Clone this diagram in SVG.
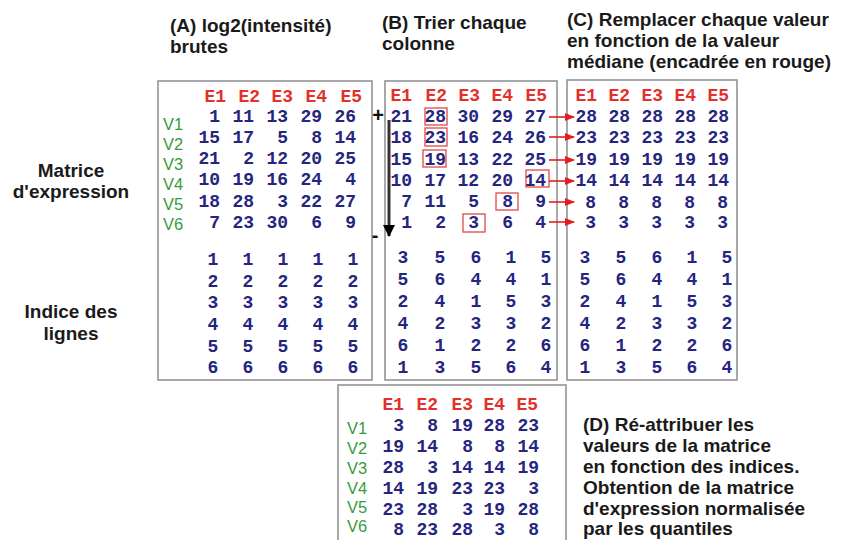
<svg xmlns="http://www.w3.org/2000/svg" width="842" height="540" viewBox="0 0 842 540">
<style>
.bg{fill:#ffffff}
.box{fill:#ffffff;stroke:#8c8c8c;stroke-width:1.5}
.t{font-family:"Liberation Sans",Arial,sans-serif;font-weight:bold;font-size:19px;fill:#1a1a1a}
.c{text-anchor:middle}
.h{font-family:"Liberation Mono","Courier New",monospace;font-weight:bold;font-size:18px;fill:#e3302a;text-anchor:end}
.n{font-family:"Liberation Mono","Courier New",monospace;font-weight:bold;font-size:18px;fill:#25257f;text-anchor:end}
.i{font-family:"Liberation Mono","Courier New",monospace;font-weight:bold;font-size:18px;fill:#25257f;text-anchor:middle}
.v{font-family:"Liberation Sans",Arial,sans-serif;font-size:16.5px;fill:#3a9a3a}
.rb{fill:none;stroke:#e04848;stroke-width:1.3}
.ra{stroke:#e02020;stroke-width:1.6;fill:none}
.pm{font-family:"Liberation Sans",Arial,sans-serif;font-weight:bold;font-size:20px;fill:#111}
</style>
<defs>
<marker id="redhead" markerWidth="10" markerHeight="8" refX="9" refY="4" orient="auto" markerUnits="userSpaceOnUse">
<path d="M0,0 L10,4 L0,8 Z" fill="#e02020"/>
</marker>
<marker id="blackhead" markerWidth="12" markerHeight="12" refX="6" refY="11" orient="0" markerUnits="userSpaceOnUse">
<path d="M0,0 L12,0 L6,12 Z" fill="#000"/>
</marker>
</defs>
<rect class="bg" x="0" y="0" width="842" height="540"/>

<g id="titles">
<text class="t" x="170" y="32">(A) log2(intensité)</text>
<text class="t" x="170" y="53">brutes</text>
<text class="t" x="382" y="29">(B) Trier chaque</text>
<text class="t" x="382" y="50">colonne</text>
<text class="t" x="567" y="26">(C) Remplacer chaque valeur</text>
<text class="t" x="567" y="47">en fonction de la valeur</text>
<text class="t" x="567" y="68">médiane (encadrée en rouge)</text>
<text class="t c" x="71" y="177">Matrice</text>
<text class="t c" x="71" y="198">d'expression</text>
<text class="t c" x="71" y="318">Indice des</text>
<text class="t c" x="71" y="340">lignes</text>
<text class="t" x="583" y="431">(D) Ré-attribuer les</text>
<text class="t" x="583" y="452">valeurs de la matrice</text>
<text class="t" x="583" y="473">en fonction des indices.</text>
<text class="t" x="583" y="494">Obtention de la matrice</text>
<text class="t" x="583" y="515">d'expression normalisée</text>
<text class="t" x="583" y="535">par les quantiles</text>
</g>

<g id="boxA">
<rect class="box" x="158" y="81" width="214" height="299"/>
<text class="h" y="102"><tspan x="226">E1</tspan><tspan x="260">E2</tspan><tspan x="293">E3</tspan><tspan x="327">E4</tspan><tspan x="362">E5</tspan></text>
<text class="v" x="163" y="130">V1</text>
<text class="v" x="163" y="150">V2</text>
<text class="v" x="163" y="170">V3</text>
<text class="v" x="163" y="190">V4</text>
<text class="v" x="163" y="210">V5</text>
<text class="v" x="163" y="230">V6</text>
<text class="n" y="122"><tspan x="220">1</tspan><tspan x="254">11</tspan><tspan x="288">13</tspan><tspan x="322">29</tspan><tspan x="356">26</tspan></text>
<text class="n" y="143"><tspan x="220">15</tspan><tspan x="254">17</tspan><tspan x="288">5</tspan><tspan x="322">8</tspan><tspan x="356">14</tspan></text>
<text class="n" y="164"><tspan x="220">21</tspan><tspan x="254">2</tspan><tspan x="288">12</tspan><tspan x="322">20</tspan><tspan x="356">25</tspan></text>
<text class="n" y="185"><tspan x="220">10</tspan><tspan x="254">19</tspan><tspan x="288">16</tspan><tspan x="322">24</tspan><tspan x="356">4</tspan></text>
<text class="n" y="207"><tspan x="220">18</tspan><tspan x="254">28</tspan><tspan x="288">3</tspan><tspan x="322">22</tspan><tspan x="356">27</tspan></text>
<text class="n" y="228"><tspan x="220">7</tspan><tspan x="254">23</tspan><tspan x="288">30</tspan><tspan x="322">6</tspan><tspan x="356">9</tspan></text>
<text class="i" y="265"><tspan x="213">1</tspan><tspan x="248">1</tspan><tspan x="283">1</tspan><tspan x="318">1</tspan><tspan x="353">1</tspan></text>
<text class="i" y="287"><tspan x="213">2</tspan><tspan x="248">2</tspan><tspan x="283">2</tspan><tspan x="318">2</tspan><tspan x="353">2</tspan></text>
<text class="i" y="308"><tspan x="213">3</tspan><tspan x="248">3</tspan><tspan x="283">3</tspan><tspan x="318">3</tspan><tspan x="353">3</tspan></text>
<text class="i" y="330"><tspan x="213">4</tspan><tspan x="248">4</tspan><tspan x="283">4</tspan><tspan x="318">4</tspan><tspan x="353">4</tspan></text>
<text class="i" y="352"><tspan x="213">5</tspan><tspan x="248">5</tspan><tspan x="283">5</tspan><tspan x="318">5</tspan><tspan x="353">5</tspan></text>
<text class="i" y="373"><tspan x="213">6</tspan><tspan x="248">6</tspan><tspan x="283">6</tspan><tspan x="318">6</tspan><tspan x="353">6</tspan></text>
</g>

<g id="boxB">
<rect class="box" x="385" y="81" width="172" height="299"/>
<text class="h" y="101"><tspan x="412">E1</tspan><tspan x="447">E2</tspan><tspan x="480">E3</tspan><tspan x="513">E4</tspan><tspan x="547">E5</tspan></text>
<text class="n" y="122"><tspan x="412">21</tspan><tspan x="446">28</tspan><tspan x="479">30</tspan><tspan x="513">29</tspan><tspan x="546">27</tspan></text>
<text class="n" y="143"><tspan x="412">18</tspan><tspan x="446">23</tspan><tspan x="479">16</tspan><tspan x="513">24</tspan><tspan x="546">26</tspan></text>
<text class="n" y="165"><tspan x="412">15</tspan><tspan x="446">19</tspan><tspan x="479">13</tspan><tspan x="513">22</tspan><tspan x="546">25</tspan></text>
<text class="n" y="186"><tspan x="412">10</tspan><tspan x="446">17</tspan><tspan x="479">12</tspan><tspan x="513">20</tspan><tspan x="546">14</tspan></text>
<text class="n" y="207"><tspan x="412">7</tspan><tspan x="446">11</tspan><tspan x="479">5</tspan><tspan x="513">8</tspan><tspan x="546">9</tspan></text>
<text class="n" y="228"><tspan x="412">1</tspan><tspan x="446">2</tspan><tspan x="479">3</tspan><tspan x="513">6</tspan><tspan x="546">4</tspan></text>
<rect class="rb" x="425" y="108" width="22" height="17"/>
<rect class="rb" x="425" y="128" width="22" height="18"/>
<rect class="rb" x="423" y="150" width="23" height="17"/>
<rect class="rb" x="526" y="170" width="23" height="17"/>
<rect class="rb" x="496" y="193" width="22" height="17"/>
<rect class="rb" x="463" y="214" width="22" height="18"/>
<text class="pm c" x="378" y="122">+</text>
<text class="pm c" x="375" y="242">-</text>
<text class="i" y="263"><tspan x="403">3</tspan><tspan x="440">5</tspan><tspan x="476">6</tspan><tspan x="511">1</tspan><tspan x="546">5</tspan></text>
<text class="i" y="285"><tspan x="403">5</tspan><tspan x="440">6</tspan><tspan x="476">4</tspan><tspan x="511">4</tspan><tspan x="546">1</tspan></text>
<text class="i" y="307"><tspan x="403">2</tspan><tspan x="440">4</tspan><tspan x="476">1</tspan><tspan x="511">5</tspan><tspan x="546">3</tspan></text>
<text class="i" y="329"><tspan x="403">4</tspan><tspan x="440">2</tspan><tspan x="476">3</tspan><tspan x="511">3</tspan><tspan x="546">2</tspan></text>
<text class="i" y="351"><tspan x="403">6</tspan><tspan x="440">1</tspan><tspan x="476">2</tspan><tspan x="511">2</tspan><tspan x="546">6</tspan></text>
<text class="i" y="373"><tspan x="403">1</tspan><tspan x="440">3</tspan><tspan x="476">5</tspan><tspan x="511">6</tspan><tspan x="546">4</tspan></text>
</g>

<g id="boxC">
<rect class="box" x="567" y="80" width="170" height="300"/>
<text class="h" y="101"><tspan x="597">E1</tspan><tspan x="630">E2</tspan><tspan x="663">E3</tspan><tspan x="696">E4</tspan><tspan x="729">E5</tspan></text>
<text class="n" y="122"><tspan x="597">28</tspan><tspan x="630">28</tspan><tspan x="663">28</tspan><tspan x="696">28</tspan><tspan x="729">28</tspan></text>
<text class="n" y="143"><tspan x="597">23</tspan><tspan x="630">23</tspan><tspan x="663">23</tspan><tspan x="696">23</tspan><tspan x="729">23</tspan></text>
<text class="n" y="165"><tspan x="597">19</tspan><tspan x="630">19</tspan><tspan x="663">19</tspan><tspan x="696">19</tspan><tspan x="729">19</tspan></text>
<text class="n" y="186"><tspan x="597">14</tspan><tspan x="630">14</tspan><tspan x="663">14</tspan><tspan x="696">14</tspan><tspan x="729">14</tspan></text>
<text class="n" y="208"><tspan x="596">8</tspan><tspan x="629">8</tspan><tspan x="662">8</tspan><tspan x="695">8</tspan><tspan x="728">8</tspan></text>
<text class="n" y="228"><tspan x="596">3</tspan><tspan x="629">3</tspan><tspan x="662">3</tspan><tspan x="695">3</tspan><tspan x="728">3</tspan></text>
<text class="i" y="263"><tspan x="585">3</tspan><tspan x="621">5</tspan><tspan x="657">6</tspan><tspan x="692">1</tspan><tspan x="727">5</tspan></text>
<text class="i" y="285"><tspan x="585">5</tspan><tspan x="621">6</tspan><tspan x="657">4</tspan><tspan x="692">4</tspan><tspan x="727">1</tspan></text>
<text class="i" y="307"><tspan x="585">2</tspan><tspan x="621">4</tspan><tspan x="657">1</tspan><tspan x="692">5</tspan><tspan x="727">3</tspan></text>
<text class="i" y="329"><tspan x="585">4</tspan><tspan x="621">2</tspan><tspan x="657">3</tspan><tspan x="692">3</tspan><tspan x="727">2</tspan></text>
<text class="i" y="351"><tspan x="585">6</tspan><tspan x="621">1</tspan><tspan x="657">2</tspan><tspan x="692">2</tspan><tspan x="727">6</tspan></text>
<text class="i" y="373"><tspan x="585">1</tspan><tspan x="621">3</tspan><tspan x="657">5</tspan><tspan x="692">6</tspan><tspan x="727">4</tspan></text>
</g>

<g id="boxD">
<rect class="box" x="338" y="385" width="228" height="165"/>
<text class="h" y="410"><tspan x="404">E1</tspan><tspan x="438">E2</tspan><tspan x="473">E3</tspan><tspan x="505">E4</tspan><tspan x="538">E5</tspan></text>
<text class="v" x="347" y="434">V1</text>
<text class="v" x="347" y="454">V2</text>
<text class="v" x="347" y="474">V3</text>
<text class="v" x="347" y="494">V4</text>
<text class="v" x="347" y="513">V5</text>
<text class="v" x="347" y="532">V6</text>
<text class="n" y="431"><tspan x="404">3</tspan><tspan x="438">8</tspan><tspan x="473">19</tspan><tspan x="505">28</tspan><tspan x="539">23</tspan></text>
<text class="n" y="452"><tspan x="404">19</tspan><tspan x="438">14</tspan><tspan x="473">8</tspan><tspan x="505">8</tspan><tspan x="539">14</tspan></text>
<text class="n" y="473"><tspan x="404">28</tspan><tspan x="438">3</tspan><tspan x="473">14</tspan><tspan x="505">14</tspan><tspan x="539">19</tspan></text>
<text class="n" y="494"><tspan x="404">14</tspan><tspan x="438">19</tspan><tspan x="473">23</tspan><tspan x="505">23</tspan><tspan x="539">3</tspan></text>
<text class="n" y="515"><tspan x="404">23</tspan><tspan x="438">28</tspan><tspan x="473">3</tspan><tspan x="505">19</tspan><tspan x="539">28</tspan></text>
<text class="n" y="535"><tspan x="404">8</tspan><tspan x="438">23</tspan><tspan x="473">28</tspan><tspan x="505">3</tspan><tspan x="539">8</tspan></text>
</g>

<g id="connectors">
<line x1="389" y1="120" x2="389" y2="236" stroke="#9a9a9a" stroke-width="4"/>
<line x1="389" y1="120" x2="389" y2="236" stroke="#111" stroke-width="1.5" marker-end="url(#blackhead)"/>
<line class="ra" x1="549" y1="117" x2="574" y2="117" marker-end="url(#redhead)"/>
<line class="ra" x1="549" y1="137" x2="574" y2="137" marker-end="url(#redhead)"/>
<line class="ra" x1="549" y1="160" x2="574" y2="160" marker-end="url(#redhead)"/>
<line class="ra" x1="549" y1="181" x2="574" y2="181" marker-end="url(#redhead)"/>
<line class="ra" x1="549" y1="202" x2="574" y2="202" marker-end="url(#redhead)"/>
<line class="ra" x1="549" y1="222" x2="574" y2="222" marker-end="url(#redhead)"/>
</g>
</svg>
